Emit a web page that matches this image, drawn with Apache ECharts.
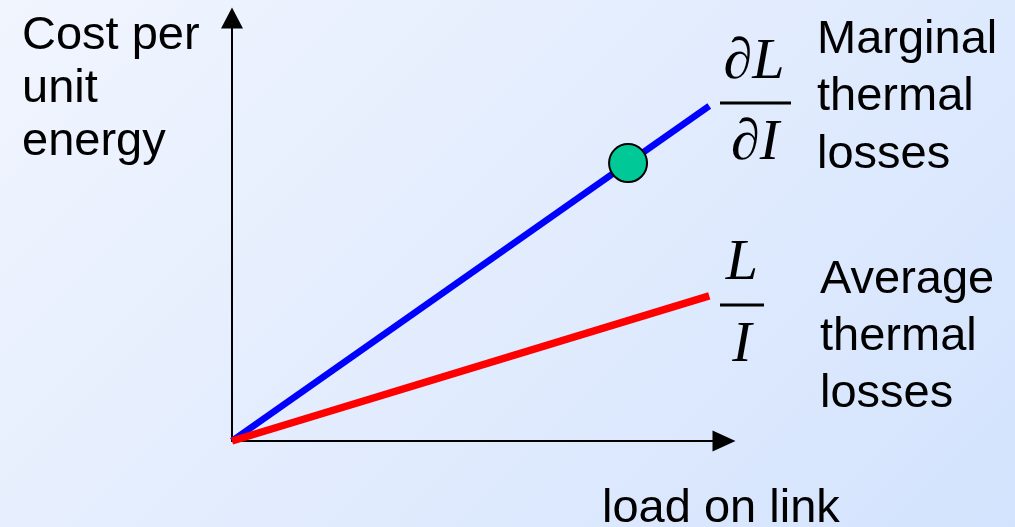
<!DOCTYPE html>
<html>
<head>
<meta charset="utf-8">
<title>Marginal vs average thermal losses</title>
<script src="https://cdn.jsdelivr.net/npm/echarts@6/dist/echarts.min.js"></script>
<style>
  html, body { margin: 0; padding: 0; }
  #chart { width: 1015px; height: 527px; }
</style>
</head>
<body>
<div id="chart"></div>
<script>
// Load on the link (arbitrary units) at the two ends of each curve
const load = [0, 9.7];
// Cost per unit energy: marginal losses dL/dI and average losses L/I
const marginalLosses = [0, 7.92];
const averageLosses = [0, 3.43];
// Operating point marked on the marginal-loss line
const operatingPoint = [8.05, 6.57];

// Text
const yAxisTitle = 'Cost per\nunit\nenergy';
const xAxisTitle = 'load on link';
const marginalTitle = 'Marginal\nthermal\nlosses';
const averageTitle = 'Average\nthermal\nlosses';

const chart = echarts.init(document.getElementById('chart'));

const sans = '"Liberation Sans", Arial, sans-serif';
const serif = '"Liberation Serif", "Times New Roman", serif';

function label(text, x, y, size, lineHeight, font) {
  return {
    type: 'text', x: x, y: y, z: 10,
    style: {
      text: text, fill: '#000', font: size + 'px ' + font,
      lineHeight: lineHeight, verticalAlign: 'top', align: 'left'
    }
  };
}
function centered(text, x, y, size, font) {
  return {
    type: 'text', x: x, y: y, z: 10,
    style: {
      text: text, fill: '#000', font: 'italic ' + size + 'px ' + font,
      verticalAlign: 'top', align: 'center'
    }
  };
}
function bar(x1, x2, y) {
  return {
    type: 'rect', z: 10,
    shape: { x: x1, y: y - 1.5, width: x2 - x1, height: 3 },
    style: { fill: '#000' }
  };
}

chart.setOption({
  backgroundColor: {
    type: 'linear', global: true, x: 0, y: 0, x2: 771, y2: 771,
    colorStops: [
      { offset: 0, color: '#f1f5fe' },
      { offset: 1, color: '#d3e3fd' }
    ]
  },
  animation: false,
  grid: { left: 232, top: 18, right: 291, bottom: 86 },
  xAxis: {
    type: 'value', min: 0, max: 10,
    axisLabel: { show: false }, axisTick: { show: false }, splitLine: { show: false },
    axisLine: {
      show: true, symbol: ['none', 'triangle'], symbolSize: [21, 23],
      lineStyle: { color: '#000', width: 2 }
    }
  },
  yAxis: {
    type: 'value', min: 0, max: 10,
    axisLabel: { show: false }, axisTick: { show: false }, splitLine: { show: false },
    axisLine: {
      show: true, symbol: ['none', 'triangle'], symbolSize: [22, 21],
      lineStyle: { color: '#000', width: 2 }
    }
  },
  series: [
    {
      name: 'Marginal thermal losses', type: 'line', symbol: 'none', z: 3,
      data: load.map((x, i) => [x, marginalLosses[i]]),
      lineStyle: { color: '#0000ff', width: 6.5, cap: 'butt' }
    },
    {
      name: 'Average thermal losses', type: 'line', symbol: 'none', z: 4,
      data: load.map((x, i) => [x, averageLosses[i]]),
      lineStyle: { color: '#ff0000', width: 7.5, cap: 'butt' }
    },
    {
      name: 'Operating point', type: 'scatter', z: 5,
      data: [operatingPoint], symbol: 'circle', symbolSize: 38,
      itemStyle: { color: '#00c896', borderColor: '#000', borderWidth: 2, opacity: 1 }
    }
  ],
  graphic: [
    label(yAxisTitle, 22, 10, 47, 53, sans),
    label(xAxisTitle, 602, 482, 47, 54, sans),
    label(marginalTitle, 817, 11, 47, 57.5, sans),
    label(averageTitle, 820, 252, 47, 57, sans),
    centered('\u2202L', 754, 34, 58, serif),
    bar(720, 791, 103),
    centered('\u2202I', 755, 115, 58, serif),
    centered('L', 742, 235, 58, serif),
    bar(720, 764, 305),
    centered('I', 742, 317, 58, serif)
  ]
});
</script>
</body>
</html>
